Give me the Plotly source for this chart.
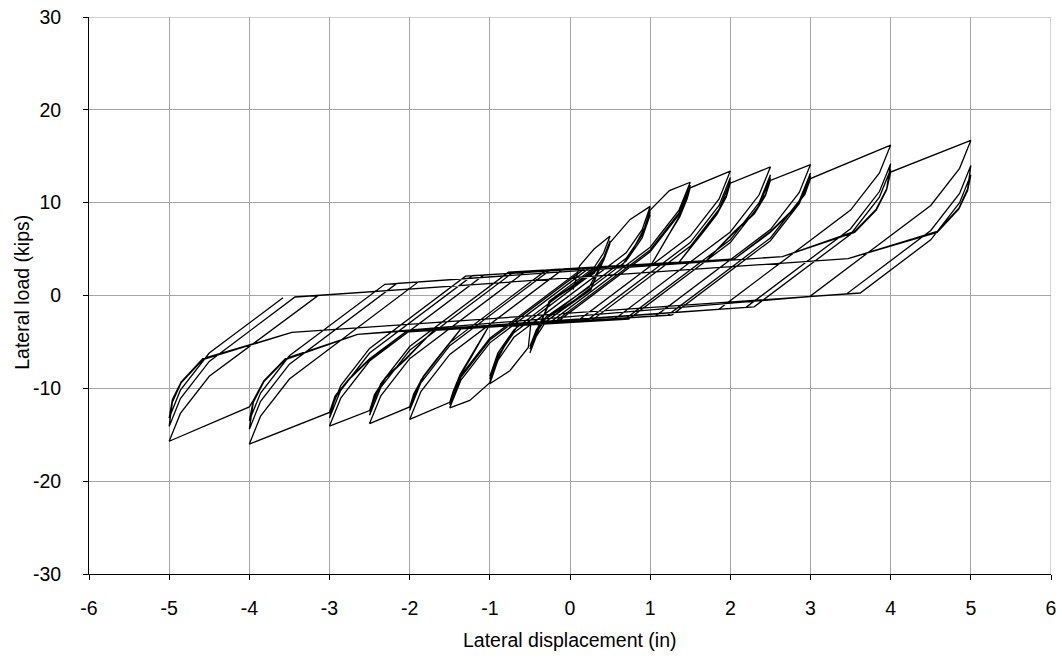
import plotly.graph_objects as go

# Load path, grouped by displacement amplitude (in, kips)
x_a05 = [0.04, 0.12, 0.30, 0.5, 0.42, 0.30, -0.26, -0.42, -0.5, -0.42, -0.30, 0.26, 0.42, 0.5,
         0.42, 0.30, -0.25, -0.42, -0.5, -0.42, -0.30, 0.25, 0.42, 0.5, 0.42, 0.30, -0.24, -0.42, -0.5]
y_a05 = [0.65, 3.2, 5.0, 6.4, 4.6, 3.0, -0.6, -4.2, -6.2, -4.4, -2.8, 0.6, 4.0, 5.9,
         4.1, 2.6, -0.6, -3.9, -5.8, -4.0, -2.5, 0.6, 3.8, 5.6, 3.8, 2.4, -0.6, -3.8, -5.5]

x_a10 = [-0.42, -0.30, 0.24, 0.42, 0.5, 0.75, 1.0,
         0.9, 0.7, -0.49, -0.52, -0.75, -1.0,
         -0.9, -0.7, 0.475, 0.65, 0.8, 0.93, 1.0,
         0.9, 0.7, -0.39, -0.65, -0.8, -0.93, -1.0,
         -0.9, -0.7, 0.39, 0.65, 0.8, 0.93, 1.0,
         0.9, 0.7, -0.34, -0.65, -0.8, -0.93, -1.0]
y_a10 = [-3.7, -2.3, 0.9, 3.8, 5.7, 8.2, 9.6,
         7.1, 4.6, -3.15, -5.6, -8.1, -9.5,
         -7.0, -4.5, 3.14, 3.23, 5.2, 7.3, 9.0,
         6.5, 4.0, -3.1, -3.23, -5.2, -7.3, -9.0,
         -6.5, -4.0, 3.1, 3.23, 5.2, 7.2, 8.7,
         6.2, 3.7, -3.07, -3.23, -5.1, -7.1, -8.7]

x_a15 = [-0.9, -0.7, 0.34, 0.65, 0.8, 0.93, 1.0, 1.24, 1.5,
         1.36, 1.0, -0.267, -0.65, -0.8, -0.93, -1.0, -1.25, -1.5,
         -1.36, -1.0, 0.25, 1.02, 1.25, 1.37, 1.46, 1.5,
         1.36, 1.0, -0.217, -1.02, -1.25, -1.37, -1.46, -1.5,
         -1.36, -1.0, 0.2, 1.02, 1.25, 1.37, 1.46, 1.5,
         1.36, 1.0, -0.183, -1.02, -1.25, -1.37, -1.46, -1.5]
y_a15 = [-6.2, -3.7, 3.07, 3.23, 5.2, 7.3, 9.2, 11.3, 12.2,
         9.2, 5.2, -3.03, -3.23, -5.2, -7.3, -9.4, -11.3, -12.1,
         -9.1, -5.1, 3.03, 3.41, 6.9, 8.6, 10.5, 11.9,
         8.9, 4.9, -3.01, -3.41, -6.9, -8.6, -10.5, -11.8,
         -8.8, -4.8, 3.0, 3.41, 6.8, 8.5, 10.4, 11.7,
         8.7, 4.7, -2.99, -3.41, -6.8, -8.5, -10.4, -11.6]

x_a20 = [-1.36, -1.0, 0.167, 1.02, 1.25, 1.37, 1.46, 1.5, 2.0,
         1.86, 1.5, 0.075, -1.02, -1.25, -1.37, -1.46, -1.5, -2.0,
         -1.86, -1.5, -0.083, 1.36, 1.66, 1.83, 1.95, 2.0,
         1.86, 1.5, 0.192, -1.36, -1.66, -1.83, -1.95, -2.0,
         -1.86, -1.5, -0.242, 1.36, 1.66, 1.83, 1.95, 2.0,
         1.86, 1.5, 0.258, -1.36, -1.66, -1.83, -1.95, -2.0]
y_a20 = [-8.6, -4.6, 2.98, 3.41, 6.8, 8.5, 10.4, 11.6, 13.4,
         10.4, 6.4, -2.86, -3.41, -6.8, -8.5, -10.4, -11.5, -13.35,
         -10.35, -6.35, 2.86, 3.58, 6.9, 8.8, 10.8, 12.7,
         9.7, 5.7, -2.80, -3.58, -6.9, -8.8, -10.8, -12.4,
         -9.4, -5.4, 2.78, 3.58, 6.8, 8.7, 10.6, 12.3,
         9.3, 5.3, -2.77, -3.58, -6.8, -8.7, -10.6, -12.1]

x_a25 = [-1.86, -1.5, -0.292, 1.36, 1.66, 1.83, 1.95, 2.0, 2.5,
         2.36, 2.0, 0.542, -1.36, -1.66, -1.83, -1.95, -2.0, -2.5,
         -2.36, -2.0, -0.55, 1.7, 2.05, 2.3, 2.44, 2.5,
         2.36, 2.0, 0.683, -1.7, -2.05, -2.3, -2.44, -2.5,
         -2.36, -2.0, -0.70, 1.7, 2.05, 2.3, 2.44, 2.5,
         2.36, 2.0, 0.733, -1.7, -2.05, -2.3, -2.44, -2.5]
y_a25 = [-9.1, -5.1, 2.75, 3.58, 6.8, 8.7, 10.6, 12.1, 13.85,
         10.85, 6.85, -2.63, -3.58, -6.8, -8.7, -10.6, -12.0, -13.8,
         -10.8, -6.8, 2.63, 3.75, 6.9, 8.9, 10.9, 13.0,
         10.0, 6.0, -2.56, -3.75, -6.9, -8.9, -10.9, -12.9,
         -9.9, -5.9, 2.55, 3.75, 6.8, 8.8, 10.8, 12.7,
         9.7, 5.7, -2.53, -3.75, -6.8, -8.8, -10.7, -12.5]

x_a30 = [-2.36, -2.0, -0.767, 1.7, 2.05, 2.3, 2.44, 2.5, 3.0,
         2.86, 2.5, 1.067, -1.7, -2.05, -2.3, -2.44, -2.5, -3.0,
         -2.86, -2.5, -1.074, 2.05, 2.5, 2.75, 2.93, 3.0,
         2.86, 2.5, 1.218, -2.05, -2.5, -2.75, -2.93, -3.0,
         -2.86, -2.5, -1.218, 2.05, 2.5, 2.75, 2.93, 3.0,
         2.86, 2.5, 1.269, -2.05, -2.5, -2.75, -2.93, -3.0]
y_a30 = [-9.5, -5.5, 2.52, 3.75, 6.8, 8.8, 10.8, 12.4, 14.1,
         11.1, 7.1, -2.21, -3.75, -6.8, -8.8, -10.8, -12.4, -14.06,
         -11.06, -7.06, 2.21, 3.93, 6.9, 9.0, 11.0, 13.2,
         10.2, 6.2, -2.13, -3.93, -6.9, -9.0, -11.0, -13.2,
         -10.2, -6.2, 2.13, 3.93, 6.8, 8.9, 10.9, 12.9,
         9.9, 5.9, -2.10, -3.93, -6.8, -8.9, -10.8, -12.7]

x_a40 = [-2.86, -2.5, -1.303, 2.05, 2.5, 2.75, 2.93, 3.0, 4.0,
         3.86, 3.5, 1.856, -2.05, -2.5, -2.75, -2.93, -3.0, -4.0,
         -3.86, -3.5, -1.89, 2.65, 3.55, 3.82, 3.95, 4.0,
         3.86, 3.5, 2.195, -2.65, -3.55, -3.82, -3.95, -4.0,
         -3.86, -3.5, -2.16, 2.65, 3.55, 3.82, 3.95, 4.0,
         3.86, 3.5, 2.297, -2.65, -3.55, -3.82, -3.95, -4.0]
y_a40 = [-9.7, -5.7, 2.08, 3.93, 6.8, 8.9, 10.9, 12.6, 16.2,
         13.2, 9.2, -1.49, -3.93, -6.8, -8.9, -10.8, -12.6, -16.0,
         -13.0, -9.0, 1.47, 4.19, 6.9, 9.3, 11.5, 14.2,
         11.2, 7.2, -1.28, -4.19, -6.9, -9.3, -11.5, -14.4,
         -11.4, -7.4, 1.30, 4.19, 6.8, 9.2, 11.4, 13.6,
         10.6, 6.6, -1.22, -4.19, -6.8, -9.2, -11.3, -13.5]

x_a50 = [-3.86, -3.5, -2.31, 2.65, 3.55, 3.82, 3.95, 4.0, 5.0,
         4.86, 4.5, 2.99, -2.65, -3.55, -3.82, -3.95, -4.0, -5.0,
         -4.86, -4.5, -3.14, 3.47, 4.58, 4.85, 4.96, 5.0,
         4.86, 4.5, 3.45, -3.47, -4.58, -4.85, -4.96, -5.0,
         -4.86, -4.5, -3.43, 3.47, 4.58, 4.85, 4.96, 5.0,
         4.86, 4.5, 3.62, -3.47, -4.58, -4.85, -4.96, -5.0,
         -4.86, -4.5, -3.58]
y_a50 = [-10.5, -6.5, 1.21, 4.19, 6.8, 9.2, 11.4, 13.3, 16.7,
         13.7, 9.7, -0.11, -4.19, -6.8, -9.2, -11.3, -12.0, -15.7,
         -12.7, -8.7, 0.01, 3.98, 6.9, 9.4, 11.5, 14.0,
         11.0, 7.0, 0.17, -3.98, -6.9, -9.4, -11.5, -14.1,
         -11.1, -7.1, -0.16, 3.98, 6.8, 9.3, 11.3, 13.0,
         10.0, 6.0, 0.27, -3.98, -6.8, -9.3, -11.2, -13.2,
         -10.2, -6.2, -0.25]

x_ticks = [-6, -5, -4, -3, -2, -1, 0, 1, 2, 3, 4, 5, 6]
y_ticks = [-30, -20, -10, 0, 10, 20, 30]

disp = x_a05 + x_a10 + x_a15 + x_a20 + x_a25 + x_a30 + x_a40 + x_a50
load = y_a05 + y_a10 + y_a15 + y_a20 + y_a25 + y_a30 + y_a40 + y_a50

fig = go.Figure()
fig.add_trace(go.Scatter(x=disp, y=load, mode="lines",
                         line=dict(color="black", width=1.3), showlegend=False))

font_family = "Liberation Sans, Arial, sans-serif"
fs = 19.5
axis_common = dict(
    showgrid=True, gridcolor="#a6a6a6", gridwidth=1,
    zeroline=False, showline=True, linecolor="black", linewidth=1,
    ticks="outside", ticklen=5, tickcolor="black", tickwidth=1,
    tickfont=dict(family=font_family, size=fs, color="black"),
    automargin=False, ticklabeloverflow="allow",
)
fig.update_xaxes(range=[-6, 6], tickvals=x_ticks, ticktext=[str(v) for v in x_ticks],
                 ticklabelstandoff=12, **axis_common)
fig.update_yaxes(range=[-30, 30], tickvals=y_ticks, ticktext=[str(v) for v in y_ticks],
                 ticklabelstandoff=18, **axis_common)

# gridlines at the top / right edges, drawn explicitly so they are never dropped
fig.add_shape(type="line", xref="paper", yref="y", x0=0, x1=1, y0=y_ticks[-1], y1=y_ticks[-1],
              line=dict(color="#a6a6a6", width=1), layer="below")
fig.add_shape(type="line", xref="x", yref="paper", x0=x_ticks[-1], x1=x_ticks[-1], y0=0, y1=1,
              line=dict(color="#a6a6a6", width=1), layer="below")

# Axis titles placed as annotations (paper coordinates of the plot area)
fig.add_annotation(text="Lateral displacement (in)", xref="paper", yref="paper",
                   x=0.5, y=-0.1185, xanchor="center", yanchor="middle", showarrow=False,
                   font=dict(family=font_family, size=fs, color="black"))
fig.add_annotation(text="Lateral load (kips)", xref="paper", yref="paper",
                   x=-0.0696, y=0.505, xanchor="center", yanchor="middle", showarrow=False,
                   textangle=-90, font=dict(family=font_family, size=fs, color="black"))

fig.update_layout(width=1062, height=664, paper_bgcolor="white", plot_bgcolor="white",
                  margin=dict(l=89, r=11, t=17, b=90),
                  font=dict(family=font_family, color="black"))
# remove the default 8 px page margin so the figure fills the window exactly
fig.write_html("out.html", config={"displayModeBar": False},
               post_script="document.body.style.margin='0px';document.body.style.overflow='hidden';")
